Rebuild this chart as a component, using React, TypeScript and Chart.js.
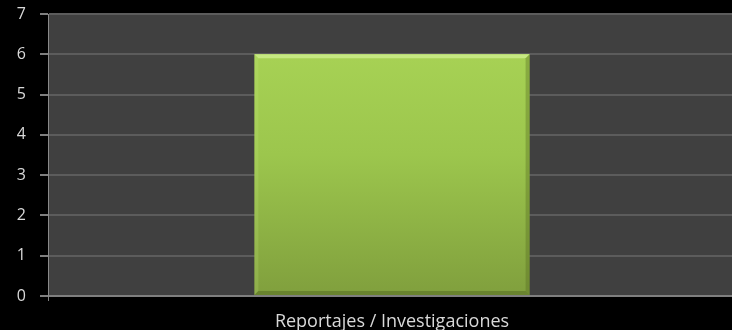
import React, { useEffect, useRef } from "react";
import { Chart, registerables } from "chart.js";

Chart.register(...registerables);

const categories = ["Reportajes / Investigaciones"];
const values = [6];
const yMin = 0;
const yMax = 7;

const plotBg = {
  id: "plotBg",
  beforeDraw(chart: any) {
    const { ctx, chartArea } = chart;
    if (!chartArea) return;
    ctx.save();
    ctx.fillStyle = "#404040";
    ctx.fillRect(chartArea.left, chartArea.top, chartArea.right - chartArea.left, chartArea.bottom - chartArea.top);
    ctx.restore();
  },
};

const bevel = {
  id: "bevel",
  afterDatasetsDraw(chart: any) {
    const { ctx } = chart;
    const meta = chart.getDatasetMeta(0);
    meta.data.forEach((bar: any) => {
      const left = bar.x - bar.width / 2;
      const right = bar.x + bar.width / 2;
      const top = bar.y;
      const bottom = bar.base;
      const d = 4;
      ctx.save();
      const poly = (pts: number[][], color: string) => {
        ctx.beginPath();
        ctx.moveTo(pts[0][0], pts[0][1]);
        for (let i = 1; i < pts.length; i++) ctx.lineTo(pts[i][0], pts[i][1]);
        ctx.closePath();
        ctx.fillStyle = color;
        ctx.fill();
      };
      poly([[left, top], [right, top], [right - d, top + d], [left + d, top + d]], "#c6e982");
      poly([[right, top], [right, bottom], [right - d, bottom - d], [right - d, top + d]], "rgba(80,100,30,0.35)");
      poly([[left, top], [left + d, top + d], [left + d, bottom - d], [left, bottom]], "rgba(200,235,130,0.2)");
      poly([[left, bottom], [left + d, bottom - d], [right - d, bottom - d], [right, bottom]], "rgba(70,90,25,0.4)");
      ctx.restore();
    });
  },
};

export default function App() {
  const ref = useRef<HTMLCanvasElement | null>(null);

  useEffect(() => {
    document.body.style.margin = "0";
    document.body.style.background = "#000";
    document.body.style.overflow = "hidden";
    const canvas = ref.current;
    if (!canvas) return;
    const chart = new Chart(canvas, {
      type: "bar",
      data: {
        labels: categories,
        datasets: [
          {
            data: values,
            backgroundColor: (c: any) => {
              const area = c.chart.chartArea;
              if (!area) return "#99c24d";
              const g = c.chart.ctx.createLinearGradient(0, area.top, 0, area.bottom);
              g.addColorStop(0, "#abd657");
              g.addColorStop(0.5, "#9cc64d");
              g.addColorStop(1, "#809f3d");
              return g;
            },
            borderWidth: 0,
            categoryPercentage: 1,
            barPercentage: 0.4,
          },
        ],
      },
      options: {
        animation: false,
        responsive: true,
        maintainAspectRatio: false,
        layout: { padding: { top: 14, right: 4, left: 0, bottom: 0 } },
        plugins: { legend: { display: false }, tooltip: { enabled: false } },
        scales: {
          x: {
            offset: true,
            grid: {
              display: true,
              drawOnChartArea: false,
              offset: true,
              tickLength: 5,
              color: "#7f7f7f",
            },
            border: { display: true, color: "#7f7f7f", width: 2 },
            ticks: {
              color: "#d9d9d9",
              font: { family: "'Open Sans', sans-serif", size: 18 },
              padding: 10,
            },
            afterFit: (s: any) => {
              s.height = 44;
            },
          },
          y: {
            min: yMin,
            max: yMax,
            ticks: {
              stepSize: 1,
              color: "#d9d9d9",
              font: { family: "'Open Sans', sans-serif", size: 16 },
              padding: 14,
            },
            grid: {
              color: "#5c5c5c",
              lineWidth: 2,
              tickLength: 8,
              tickColor: "#7f7f7f",
            },
            border: { display: true, color: "#8a8a8a", width: 1 },
            afterFit: (s: any) => {
              s.width = 48;
              s.paddingTop = 0;
              s.paddingBottom = 0;
            },
          },
        },
      },
      plugins: [plotBg, bevel],
    });
    return () => chart.destroy();
  }, []);

  return (
    <div style={{ position: "fixed", left: 0, top: 0, width: 732, height: 330, background: "#000", overflow: "hidden" }}>
      <div style={{ position: "absolute", left: 0, top: 0, width: 740, height: 340 }}>
        <canvas ref={ref} />
      </div>
    </div>
  );
}
